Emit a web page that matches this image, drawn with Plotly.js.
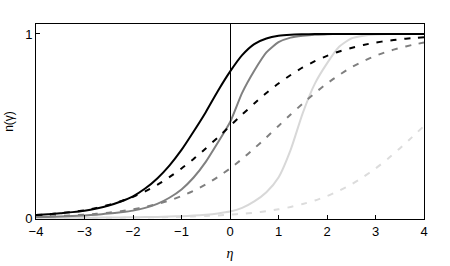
<!DOCTYPE html>
<html>
<head>
<meta charset="utf-8">
<script src="https://cdn.plot.ly/plotly-3.0.1.min.js"></script>
<style>html,body{margin:0;padding:0;background:#fff;}#chart{width:450px;height:266px;}</style>
</head>
<body>
<div id="chart"></div>
<script>
const eta = [-4,-3.75,-3.5,-3.25,-3,-2.75,-2.5,-2.25,-2,-1.75,-1.5,-1.25,-1,-0.75,-0.5,-0.25,0,0.25,0.5,0.75,1,1.25,1.5,1.75,2,2.25,2.5,2.75,3,3.25,3.5,3.75,4];

const solidBlack = [0.016,0.02,0.026,0.032,0.04,0.052,0.068,0.09,0.118,0.16,0.215,0.285,0.37,0.47,0.575,0.69,0.795,0.885,0.945,0.975,0.99,0.996,0.998,0.999,1,1,1,1,1,1,1,1,1];
const dashedBlack = [0.016,0.02,0.026,0.033,0.042,0.055,0.071,0.091,0.115,0.145,0.18,0.222,0.269,0.321,0.378,0.438,0.5,0.562,0.622,0.679,0.731,0.777,0.818,0.852,0.881,0.905,0.924,0.94,0.953,0.963,0.971,0.977,0.982];
const solidGray = [0.005,0.006,0.008,0.011,0.014,0.018,0.024,0.031,0.04,0.055,0.077,0.11,0.155,0.22,0.305,0.41,0.52,0.68,0.8,0.9,0.955,0.98,0.99,0.996,0.998,1,1,1,1,1,1,1,1];
const dashedGray = [0.007,0.009,0.011,0.014,0.018,0.023,0.029,0.037,0.047,0.06,0.076,0.095,0.119,0.148,0.182,0.223,0.269,0.321,0.378,0.438,0.5,0.562,0.622,0.679,0.731,0.777,0.818,0.852,0.881,0.905,0.924,0.94,0.953];
const solidLight = [0.001,0.001,0.001,0.001,0.002,0.002,0.003,0.003,0.004,0.005,0.006,0.008,0.01,0.013,0.018,0.025,0.035,0.055,0.09,0.14,0.22,0.37,0.57,0.73,0.84,0.93,0.975,0.99,0.997,1,1,1,1];
const dashedLight = [0.0003,0.0004,0.0006,0.0007,0.0009,0.0012,0.0015,0.0019,0.0025,0.0032,0.0041,0.0052,0.0067,0.0086,0.011,0.014,0.018,0.023,0.029,0.037,0.047,0.06,0.076,0.095,0.119,0.148,0.182,0.223,0.269,0.321,0.378,0.438,0.5];

const xTicks = [-4,-3,-2,-1,0,1,2,3,4];
const xTickText = ['\u22124','\u22123','\u22122','\u22121','0','1','2','3','4'];
const yTicks = [0,1];
const yTickText = ['0','1'];

const DASH = '6px,8px';
function tr(y, color, dash) {
  return {x: eta, y: y, type: 'scatter', mode: 'lines',
    line: {color: color, width: 2, dash: dash, shape: 'spline', smoothing: 0.6},
    hoverinfo: 'skip', showlegend: false};
}
const data = [
  tr(dashedLight, '#dcdcdc', DASH),
  tr(solidLight, '#d8d8d8', 'solid'),
  tr(dashedGray, '#7f7f7f', DASH),
  tr(solidGray, '#808080', 'solid'),
  tr(dashedBlack, '#000000', DASH),
  tr(solidBlack, '#000000', 'solid')
];

const layout = {
  width: 450, height: 266,
  margin: {l: 36, r: 26, t: 24, b: 47, pad: 0},
  paper_bgcolor: '#fff', plot_bgcolor: '#fff',
  font: {family: 'Liberation Sans, Arial, sans-serif', size: 13, color: '#000'},
  xaxis: {
    range: [-4, 4], tickvals: xTicks, ticktext: xTickText,
    ticks: 'inside', ticklen: 4, tickwidth: 1, tickcolor: '#000',
    showline: true, linecolor: '#000', linewidth: 1, mirror: true,
    showgrid: false, zeroline: false,
    title: {text: '\u03b7', font: {family: 'Liberation Serif, Times New Roman, serif', size: 14, style: 'italic'}, standoff: 10}
  },
  yaxis: {
    range: [-0.0054, 1.054], tickvals: yTicks, ticktext: yTickText,
    ticks: 'inside', ticklen: 4, tickwidth: 1, tickcolor: '#000',
    showline: true, linecolor: '#000', linewidth: 1, mirror: true,
    showgrid: false, zeroline: false,
    title: {text: 'n(\u03b3)', font: {size: 12}, standoff: 8}
  },
  shapes: [{type: 'line', xref: 'x', yref: 'paper', x0: 0.0103, x1: 0.0103, y0: 0, y1: 1,
    line: {color: '#000', width: 1}}]
};

Plotly.newPlot('chart', data, layout, {staticPlot: true, displayModeBar: false});
</script>
</body>
</html>
